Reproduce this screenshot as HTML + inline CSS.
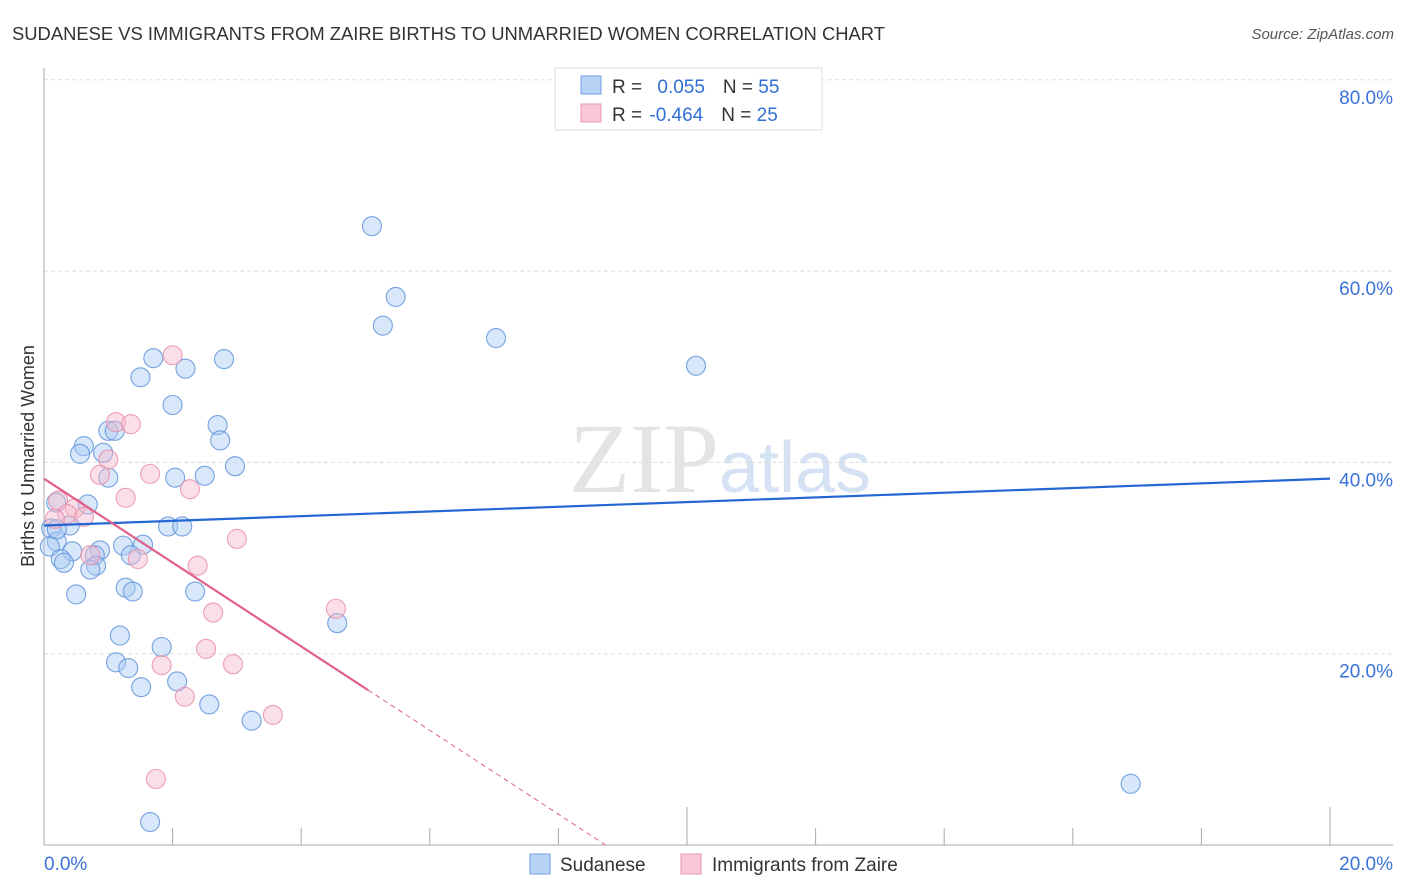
<!DOCTYPE html>
<html><head><meta charset="utf-8"><style>
body{margin:0;background:#fff;font-family:"Liberation Sans",sans-serif;}
svg{display:block}
</style></head><body>
<svg id="chart" width="1406" height="892">
<text x="12" y="40" font-size="18.4" fill="#333">SUDANESE VS IMMIGRANTS FROM ZAIRE BIRTHS TO UNMARRIED WOMEN CORRELATION CHART</text>
<text x="1394" y="39" font-size="15" fill="#555" font-style="italic" text-anchor="end">Source: ZipAtlas.com</text>
<text x="720" y="492" font-size="100" fill="#e4e4e4" text-anchor="middle" font-family="Liberation Serif,serif">ZIP<tspan fill="#d5e2f3" font-family="Liberation Sans,sans-serif" font-size="72">atlas</tspan></text>
<g id="grid"></g><g id="axes"></g><g id="marks"></g>
<text transform="translate(34,456) rotate(-90)" font-size="18" fill="#333" text-anchor="middle">Births to Unmarried Women</text>
<g>
<rect x="555" y="68" width="267" height="62" fill="#fff" stroke="#ddd"/>
<rect x="581" y="76" width="20" height="18" fill="#b8d3f5" stroke="#6f9fe0"/>
<rect x="581" y="104" width="20" height="18" fill="#f9c8d6" stroke="#e89ab0"/>
<text x="612" y="93" font-size="19" fill="#333">R = <tspan fill="#2f6fd6" dx="10">0.055</tspan><tspan dx="18" fill="#333">N = </tspan><tspan fill="#2f6fd6">55</tspan></text>
<text x="612" y="121" font-size="19" fill="#333">R = <tspan fill="#2f6fd6" dx="2">-0.464</tspan><tspan dx="18" fill="#333">N = </tspan><tspan fill="#2f6fd6">25</tspan></text>
</g>
<g>
<rect x="530" y="854" width="20" height="20" fill="#b8d3f5" stroke="#6f9fe0"/>
<text x="560" y="871" font-size="19" fill="#333">Sudanese</text>
<rect x="681" y="854" width="20" height="20" fill="#f9c8d6" stroke="#e89ab0"/>
<text x="712" y="871" font-size="19" fill="#333">Immigrants from Zaire</text>
</g>
</svg>
<script>
const yTicks=[20,40,60,80];
const xTickVals=[2,4,6,8,10,12,14,16,18,20];
const blueX=[5.1,5.47,5.27,7.03,10.14,1.7,2.8,2.2,1.5,2.0,2.7,1.0,1.1,0.62,0.56,0.92,2.74,2.97,1.0,2.04,2.5,0.68,0.19,0.11,0.4,1.93,2.15,0.2,0.09,1.23,1.54,0.87,0.44,0.79,0.26,0.31,0.81,0.72,1.35,1.27,1.38,2.35,0.5,4.56,1.18,1.83,1.12,1.31,2.07,1.51,2.57,3.23,1.65,16.9,0.2];
const blueY=[64.7,57.3,54.3,53.0,50.1,50.9,50.8,49.8,48.9,46.0,43.9,43.3,43.3,41.7,40.9,41.0,42.3,39.6,38.4,38.4,38.6,35.6,35.8,33.1,33.4,33.3,33.3,31.7,31.2,31.3,31.4,30.8,30.7,30.3,29.9,29.5,29.2,28.8,30.3,26.9,26.5,26.5,26.2,23.2,21.9,20.7,19.1,18.5,17.1,16.5,14.7,13.0,2.4,6.4,33.0];
const pinkX=[2.0,1.12,1.35,1.0,0.87,1.65,2.27,1.27,0.22,0.48,0.36,0.62,0.17,3.0,0.72,1.46,2.39,2.63,4.54,2.52,1.83,2.94,2.19,3.56,1.74];
const pinkY=[51.2,44.2,44.0,40.3,38.7,38.8,37.2,36.3,36.0,35.2,34.6,34.3,34.1,32.0,30.3,29.9,29.2,24.3,24.7,20.5,18.8,18.9,15.5,13.6,6.9];
const blueTrend=[33.4,38.3];
const pinkTrend=[38.3,-49.4];
const NS='http://www.w3.org/2000/svg';
const X=v=>44+v*1286/20, Y=v=>845-v*9.565;
function el(t,a,p){const e=document.createElementNS(NS,t);for(const k in a)e.setAttribute(k,a[k]);p.appendChild(e);return e;}
const grid=document.getElementById('grid'),axes=document.getElementById('axes'),marks=document.getElementById('marks');
yTicks.forEach(v=>{
 const l=el('line',{x1:44,x2:1393,y1:Y(v),y2:Y(v),stroke:'#ddd','stroke-dasharray':'4,3'},grid);
 
 
 const t=el('text',{x:1393,y:Y(v)+24,'font-size':19,fill:'#3a72d8','text-anchor':'end'},grid);
 t.textContent=v.toFixed(1)+'%';
 
 
});
const ax=el('line',{x1:44,x2:1393,y1:845,y2:845,stroke:'#aaa'},axes);


const ay=el('line',{x1:44,x2:44,y1:68,y2:845,stroke:'#aaa'},axes);


xTickVals.forEach(v=>{
 const tk=el('line',{x1:X(v),x2:X(v),y1:(v%10===0?807:828),y2:845,stroke:'#aaa'},axes);
 
 
});
[[0,44,'start'],[20,1393,'end']].forEach(([v,x,a])=>{
 const t=el('text',{x:x,y:870,'font-size':19,fill:'#3a72d8','text-anchor':a},axes);
 t.textContent=v.toFixed(1)+'%';
 
 
});
function dots(xs,ys,fill,stroke,name){
 xs.forEach((x,i)=>{
  const c=el('circle',{cx:X(x),cy:Y(ys[i]),r:9.5,fill:fill,'fill-opacity':0.45,stroke:stroke,'stroke-width':1.1,'stroke-opacity':0.85},marks);
  
  
 });
}
dots(blueX,blueY,'#a9c9f2','#5f93dc','sudanese');
dots(pinkX,pinkY,'#f7b9cc','#e88fab','zaire');
const bl=el('line',{x1:X(0),y1:Y(blueTrend[0]),x2:X(20),y2:Y(blueTrend[1]),stroke:'#2467d4','stroke-width':2.2},marks);


const slope=(pinkTrend[1]-pinkTrend[0])/20;
const pe=5.04,pd=-pinkTrend[0]/slope;
const pl=el('line',{x1:X(0),y1:Y(pinkTrend[0]),x2:X(pe),y2:Y(pinkTrend[0]+slope*pe),stroke:'#e0608a','stroke-width':2.2},marks);


const pdl=el('line',{x1:X(pe),y1:Y(pinkTrend[0]+slope*pe),x2:X(pd),y2:Y(pinkTrend[0]+slope*pd),stroke:'#e0608a','stroke-width':1,'stroke-dasharray':'5,4'},marks);


</script>
</body></html>
